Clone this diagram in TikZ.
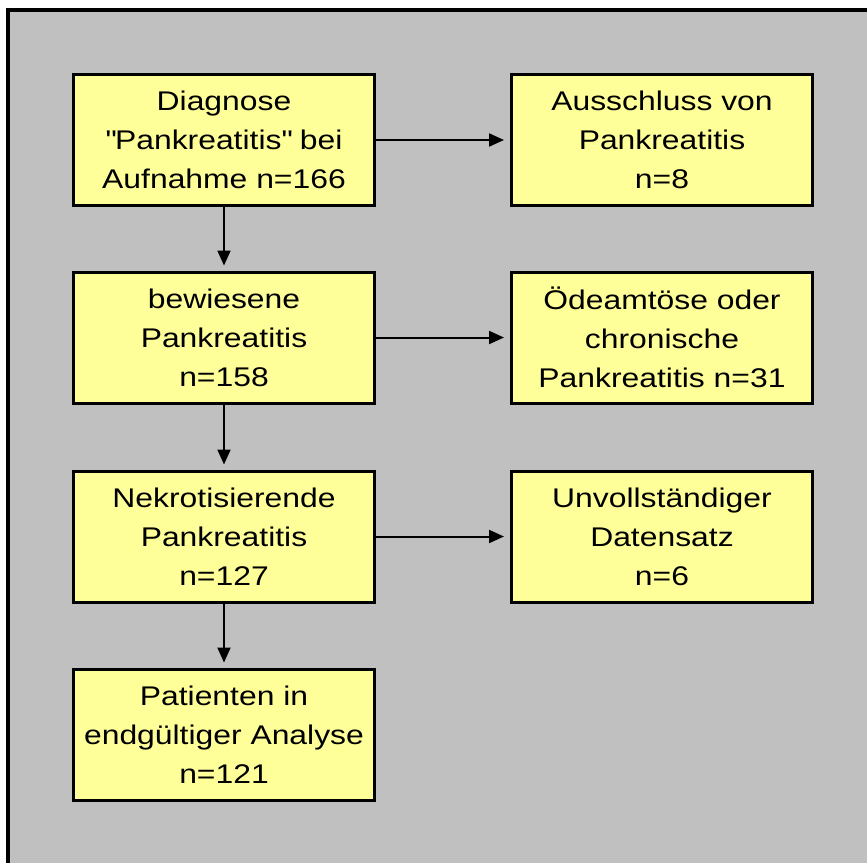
\documentclass[tikz,border=0pt]{standalone}
\usepackage{fontspec}
\setmainfont[FakeStretch=1.18]{Liberation Sans}
\usepackage{xcolor}
\usepackage{tikz}
\usetikzlibrary{arrows.meta, positioning}
\definecolor{boxyellow}{HTML}{FFFF99}
\definecolor{bggray}{HTML}{C0C0C0}
\tikzstyle{arrow}     = [line width=2pt,-{Triangle[length=15pt,width=13pt]}]
\tikzstyle{block}     = [rectangle, draw, line width=3pt, fill=boxyellow, minimum width=301pt, minimum height=131pt, inner sep=0pt, text centered, font=\fontsize{27}{39}\selectfont]
\tikzset{every node/.style={align=center}}

\begin{document}
\begin{tikzpicture}[x=1pt, y=-1pt]
    \useasboundingbox (0,0) rectangle (867,863);
    \fill [bggray] (8,10) rectangle (867,863);
    \draw [line width=4pt] (8,863) -- (8,10) -- (867,10);

    \node (diag)    at (224, 140)   [block] {Diagnose\\\textquotedbl Pankreatitis\textquotedbl{} bei\\Aufnahme n=166};
    \node (ausschl) at (662, 140)   [block] {Ausschluss von\\Pankreatitis\\n=8};
    \node (bewies)  at (224, 337.5) [block] {bewiesene\\Pankreatitis\\n=158};
    \node (oedem)   at (662, 337.5) [block] {Ödeamtöse oder\\chronische\\Pankreatitis n=31};
    \node (nekro)   at (224, 536.5) [block] {Nekrotisierende\\Pankreatitis\\n=127};
    \node (unvoll)  at (662, 536.5) [block] {Unvollständiger\\Datensatz\\n=6};
    \node (analyse) at (224, 734.5) [block] {Patienten in\\endgültiger Analyse\\n=121};

    \draw [arrow, shorten >=6pt] (diag.east)   -- (ausschl.west);
    \draw [arrow, shorten >=6pt] (bewies.east) -- (oedem.west);
    \draw [arrow, shorten >=6pt] (nekro.east)  -- (unvoll.west);
    \draw [arrow, shorten >=5pt] (diag.south)   -- (bewies.north);
    \draw [arrow, shorten >=5pt] (bewies.south) -- (nekro.north);
    \draw [arrow, shorten >=5pt] (nekro.south)  -- (analyse.north);
\end{tikzpicture}
\end{document}
